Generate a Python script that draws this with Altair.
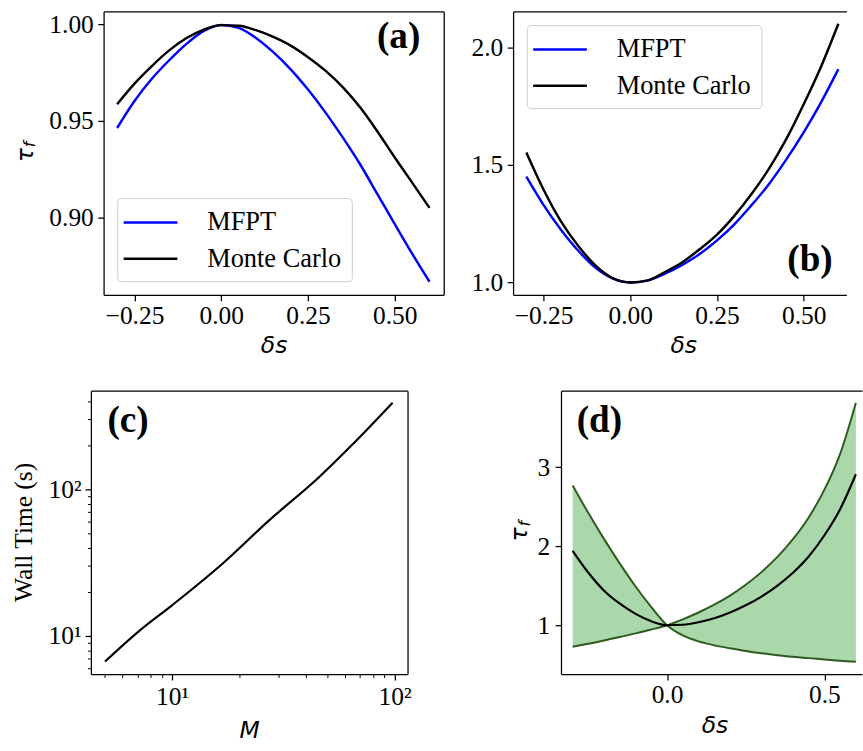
import altair as alt
import pandas as pd

# ---------------- data ----------------
ds = [-0.3, -0.25, -0.2, -0.15, -0.1, -0.05, 0.0, 0.05, 0.1, 0.15,
      0.2, 0.25, 0.3, 0.35, 0.4, 0.45, 0.5, 0.55, 0.6]

a_mfpt = [0.9463, 0.9603, 0.9718, 0.9814, 0.9899, 0.9966, 0.9997, 0.9982, 0.9930, 0.9856,
          0.9767, 0.9662, 0.9544, 0.9414, 0.9275, 0.9120, 0.8965, 0.8812, 0.8666]
a_mc = [0.9586, 0.9693, 0.9784, 0.9865, 0.9929, 0.9973, 0.9996, 0.9993, 0.9970, 0.9935,
        0.9890, 0.9830, 0.9760, 0.9675, 0.9570, 0.9445, 0.9310, 0.9180, 0.9049]

b_mfpt = [1.4514, 1.3300, 1.2250, 1.1350, 1.0620, 1.0160, 1.0000, 1.0080, 1.0375, 1.0750,
          1.1208, 1.1792, 1.2480, 1.3300, 1.4200, 1.5250, 1.6400, 1.7680, 1.9097]
b_mc = [1.5542, 1.3950, 1.2600, 1.1550, 1.0720, 1.0180, 1.0000, 1.0090, 1.0444, 1.0861,
        1.1417, 1.2042, 1.2840, 1.3780, 1.4850, 1.6120, 1.7600, 1.9200, 2.1028]

c_M = [5, 7, 10, 17, 27, 46, 64, 98]
c_T = [6.7, 10.6, 16.2, 31.5, 60.5, 122, 199, 390]

d_dec = [2.770, 2.420, 2.090, 1.780, 1.490, 1.230, 1.000, 0.870, 0.795, 0.745,
         0.708, 0.674, 0.645, 0.620, 0.600, 0.583, 0.567, 0.550, 0.537]
d_inc = [0.728, 0.765, 0.806, 0.851, 0.897, 0.946, 1.000, 1.074, 1.161, 1.260,
         1.375, 1.512, 1.672, 1.862, 2.089, 2.365, 2.716, 3.170, 3.818]
d_mean = [1.941, 1.664, 1.437, 1.272, 1.144, 1.050, 1.000, 1.006, 1.037, 1.087,
          1.161, 1.252, 1.363, 1.499, 1.664, 1.870, 2.139, 2.469, 2.911]

series_names = ["MFPT", "Monte Carlo"]
series_colors = ["#0000ff", "#000000"]

SERIF = "Liberation Serif"
MATH = "DejaVu Sans"
MATH_SIZE = 24
GREEN_FILL = "#aad8aa"
GREEN_EDGE = "#2f5a1f"

n = len(ds)
df_a = pd.DataFrame({"ds": ds * 2, "tau": a_mfpt + a_mc,
                     "series": [series_names[0]] * n + [series_names[1]] * n})
df_b = pd.DataFrame({"ds": ds * 2, "tau": b_mfpt + b_mc,
                     "series": [series_names[0]] * n + [series_names[1]] * n})
df_c = pd.DataFrame({"M": c_M, "T": c_T})
df_d = pd.DataFrame({"ds": ds, "dec": d_dec, "inc": d_inc, "mean": d_mean})

color_scale = alt.Scale(domain=series_names, range=series_colors)


# ---------------- helpers ----------------
def x_axis(values, fmt, title, tx, ty, pad=2.5, **kw):
    return alt.Axis(values=values, format=fmt, title=title, titleFont=MATH,
                    titleFontSize=MATH_SIZE, titleFontStyle="italic", titleFontWeight="normal",
                    titleBaseline="alphabetic", titleAlign="center", titleAngle=0,
                    titleX=tx, titleY=ty, labelPadding=pad, labelFlush=False,
                    labelOverlap=False, grid=False, **kw)


def y_axis(values, fmt, title, tx, ty, pad=4.5, font=MATH, size=MATH_SIZE, style="italic", **kw):
    return alt.Axis(values=values, format=fmt, title=title, titleFont=font,
                    titleFontSize=size, titleFontStyle=style, titleFontWeight="normal",
                    titleBaseline="alphabetic", titleAlign="center", titleAngle=270,
                    titleX=tx, titleY=ty, labelPadding=pad, labelFlush=False,
                    labelOverlap=False, grid=False, **kw)


def spine_layer(df, xf, yf, sx, sy, right):
    top_ax = alt.Axis(orient="top", labels=False, ticks=False, title=None, grid=False, domain=True)
    if right:
        yax = alt.Axis(orient="right", labels=False, ticks=False, title=None, grid=False, domain=True)
    else:
        yax = None
    return alt.Chart(df).mark_line(opacity=0).encode(
        x=alt.X(xf, type="quantitative", scale=sx, axis=top_ax),
        y=alt.Y(yf, type="quantitative", scale=sy, axis=yax),
    )


def panel_label(t, x, y, align):
    return alt.Chart(pd.DataFrame({"t": [t]})).mark_text(
        font=SERIF, fontSize=38, fontWeight="bold", align=align,
        baseline="alphabetic", color="black"
    ).encode(x=alt.value(x), y=alt.value(y), text="t:N")


def sub_f(x, y):
    return alt.Chart(pd.DataFrame({"t": ["f"]})).mark_text(
        font=MATH, fontStyle="italic", fontSize=16.5, angle=270, align="left",
        baseline="alphabetic", color="black"
    ).encode(x=alt.value(x), y=alt.value(y), text="t:N")


def edge(x, align):
    # blank text that pins the horizontal extent of a panel in the layout
    return alt.Chart(pd.DataFrame({"t": [" "]})).mark_text(
        fontSize=10, align=align, baseline="middle"
    ).encode(x=alt.value(x), y=alt.value(145), text="t:N")


def lead_cell():
    # empty 1-px leading cell so that each row starts from its own left edge
    return alt.Chart(pd.DataFrame({"t": [" "]})).mark_text(fontSize=1).encode(
        x=alt.value(0), y=alt.value(0), text="t:N"
    ).properties(width=1, height=1)


def legend(x, y):
    return alt.Legend(title=None, orient="none", legendX=x, legendY=y,
                      symbolType="M-2,0H2", symbolSize=756, symbolStrokeWidth=2.5,
                      symbolOffset=9,
                      labelFont=SERIF, labelFontSize=27, labelColor="black",
                      labelOffset=43, rowPadding=9, padding=10,
                      fillColor="white", strokeColor="#cccccc", cornerRadius=4)


# ---------------- panel (a) ----------------
sx_a = alt.Scale(domain=[-0.339, 0.641], nice=False, zero=False)
sy_a = alt.Scale(domain=[0.8598, 1.0067], nice=False, zero=False)
lines_a = alt.Chart(df_a).mark_line(strokeWidth=2.5, interpolate="monotone").encode(
    x=alt.X("ds:Q", scale=sx_a, axis=x_axis([-0.25, 0, 0.25, 0.5], ".2f", "δs", 174, 59)),
    y=alt.Y("tau:Q", scale=sy_a, axis=y_axis([0.90, 0.95, 1.00], ".2f", "τ", -72.7, 146.5)),
    color=alt.Color("series:N", scale=color_scale, legend=legend(14, 191)),
)
panel_a = alt.layer(
    lines_a,
    spine_layer(df_a, "ds", "tau", sx_a, sy_a, True),
    panel_label("(a)", 324, 37.5, "right"),
    sub_f(-69.7, 139),
    edge(-102, "left"),
    edge(350, "right"),
).resolve_axis(x="independent", y="independent").properties(width=348, height=290)

# ---------------- panel (b) ----------------
sx_b = alt.Scale(domain=[-0.338, 0.6231], nice=False, zero=False)
sy_b = alt.Scale(domain=[0.947, 2.1554], nice=False, zero=False)
lines_b = alt.Chart(df_b).mark_line(strokeWidth=2.5, interpolate="monotone").encode(
    x=alt.X("ds:Q", scale=sx_b, axis=x_axis([-0.25, 0, 0.25, 0.5], ".2f", "δs", 174, 59)),
    y=alt.Y("tau:Q", scale=sy_b, axis=y_axis([1.0, 1.5, 2.0], ".1f", None, 0, 0)),
    color=alt.Color("series:N", scale=color_scale, legend=legend(14, 14)),
)
panel_b = alt.layer(
    lines_b,
    spine_layer(df_b, "ds", "tau", sx_b, sy_b, False),
    panel_label("(b)", 327, 265.5, "right"),
    edge(-67, "left"),
).resolve_axis(x="independent", y="independent").properties(width=341, height=290)

# ---------------- panel (c) ----------------
sx_c = alt.Scale(type="log", domain=[4.32, 114.4], nice=False)
sy_c = alt.Scale(type="log", domain=[5.5, 471], nice=False)
x_ticks_c = [5, 6, 7, 8, 9, 10, 20, 30, 40, 50, 60, 70, 80, 90, 100]
y_ticks_c = [6, 7, 8, 9, 10, 20, 30, 40, 50, 60, 70, 80, 90, 100, 200, 300, 400]
major_test = "datum.value == 10 || datum.value == 100"
label_expr = "datum.value == 10 ? '10\u00b9' : (datum.value == 100 ? '10\u00b2' : '')"
tick_size = {"condition": {"test": major_test, "value": 6}, "value": 3.5}
tick_width = {"condition": {"test": major_test, "value": 1.3}, "value": 1.0}

line_c = alt.Chart(df_c).mark_line(strokeWidth=2.2, color="black", interpolate="monotone").encode(
    x=alt.X("M:Q", scale=sx_c,
            axis=x_axis(x_ticks_c, "", "M", 162, 65, pad=4,
                        labelExpr=label_expr, tickSize=tick_size, tickWidth=tick_width)),
    y=alt.Y("T:Q", scale=sy_c,
            axis=y_axis(y_ticks_c, "", "Wall Time (s)", -60.5, 144.5, pad=4,
                        font=SERIF, size=26, style="normal",
                        labelExpr=label_expr, tickSize=tick_size, tickWidth=tick_width)),
)
panel_c = alt.layer(
    line_c,
    spine_layer(df_c, "M", "T", sx_c, sy_c, True),
    panel_label("(c)", 17, 42, "left"),
    edge(-89, "left"),
    edge(334, "right"),
).resolve_axis(x="independent", y="independent").properties(width=324, height=290)

# ---------------- panel (d) ----------------
sx_d = alt.Scale(domain=[-0.337, 0.6195], nice=False, zero=False)
sy_d = alt.Scale(domain=[0.381, 3.97], nice=False, zero=False)
xd = x_axis([0, 0.5], ".1f", "δs", 157, 60)
yd = y_axis([1, 2, 3], "d", "τ", -34.8, 146.5, pad=5.5)
area_d = alt.Chart(df_d).mark_area(color=GREEN_FILL, opacity=1, interpolate="monotone").encode(
    x=alt.X("ds:Q", scale=sx_d, axis=xd),
    y=alt.Y("dec:Q", scale=sy_d, axis=yd),
    y2="inc:Q",
)
dec_d = alt.Chart(df_d).mark_line(color=GREEN_EDGE, strokeWidth=2, interpolate="monotone").encode(
    x=alt.X("ds:Q", scale=sx_d, axis=xd), y=alt.Y("dec:Q", scale=sy_d, axis=yd))
inc_d = alt.Chart(df_d).mark_line(color=GREEN_EDGE, strokeWidth=2, interpolate="monotone").encode(
    x=alt.X("ds:Q", scale=sx_d, axis=xd), y=alt.Y("inc:Q", scale=sy_d, axis=yd))
mean_d = alt.Chart(df_d).mark_line(color="black", strokeWidth=2.2, interpolate="monotone").encode(
    x=alt.X("ds:Q", scale=sx_d, axis=xd), y=alt.Y("mean:Q", scale=sy_d, axis=yd))
panel_d = alt.layer(
    alt.layer(area_d, dec_d, inc_d, mean_d),
    spine_layer(df_d, "ds", "mean", sx_d, sy_d, False),
    panel_label("(d)", 16, 42, "left"),
    sub_f(-31.8, 139),
    edge(-129, "left"),
).resolve_axis(x="independent", y="independent").properties(width=308, height=290)

# ---------------- layout ----------------
chart = alt.concat(
    lead_cell(), panel_a, panel_b,
    lead_cell(), panel_c, panel_d,
    columns=3,
    spacing=alt.RowColnumber(row=30, column=0),
    align=alt.RowColLayoutAlign(row="each", column="none"),
).resolve_scale(color="independent").properties(
    padding={"left": 0, "top": 1, "right": 0, "bottom": 0},
    background="white",
).configure_view(
    stroke="transparent"
).configure_axis(
    domainColor="black", domainWidth=1.3, tickColor="black", tickWidth=1.3, tickSize=6,
    labelFont=SERIF, labelFontSize=26, labelColor="black", titleColor="black", grid=False,
)

chart.save("out.html", embed_options={"renderer": "svg", "actions": False})
